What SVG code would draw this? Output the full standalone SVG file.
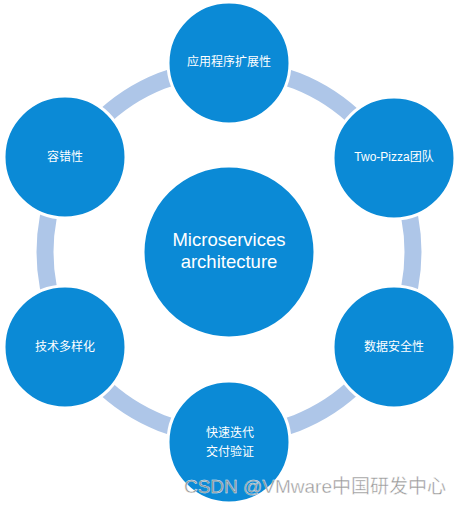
<svg xmlns="http://www.w3.org/2000/svg" width="462" height="506" viewBox="0 0 462 506">
<style>
.node{fill:#0b8ad6;stroke:#ffffff;stroke-width:3}
.cn{font-family:"Noto Sans CJK SC","Liberation Sans",sans-serif;font-size:12px;fill:#ffffff;text-anchor:middle}
.en{font-family:"Liberation Sans","Noto Sans CJK SC",sans-serif;fill:#ffffff;text-anchor:middle}
</style>
<rect width="462" height="506" fill="#ffffff"/>
<g id="connectors">
<circle cx="229" cy="252" r="184" fill="none" stroke="#aec6e8" stroke-width="17"/>
</g>
<g id="center">
<circle class="node" cx="229" cy="252" r="86"/>
<text class="en" x="229" y="246" font-size="18.5">Microservices</text>
<text class="en" x="229" y="268" font-size="18.5">architecture</text>
</g>
<g id="n-top">
<circle class="node" cx="229" cy="63" r="61"/>
<text class="cn" x="229" y="66">应用程序扩展性</text>
</g>
<g id="n-topright">
<circle class="node" cx="394" cy="158" r="61"/>
<text class="en" x="394" y="161" font-size="12">Two-Pizza团队</text>
</g>
<g id="n-bottomright">
<circle class="node" cx="394" cy="347" r="61"/>
<text class="cn" x="394" y="351">数据安全性</text>
</g>
<g id="n-bottom">
<circle class="node" cx="229" cy="442" r="61"/>
<text class="cn" x="230" y="437">快速迭代</text>
<text class="cn" x="230" y="456">交付验证</text>
</g>
<g id="n-bottomleft">
<circle class="node" cx="65" cy="347" r="61"/>
<text class="cn" x="65" y="351">技术多样化</text>
</g>
<g id="n-topleft">
<circle class="node" cx="65" cy="157" r="61"/>
<text class="cn" x="65" y="161">容错性</text>
</g>
<text x="446" y="493" text-anchor="end" font-family="Liberation Sans,Noto Sans CJK SC,sans-serif" font-size="19" fill="#8c8c8c" stroke="#ffffff" stroke-width="0.4" opacity="0.9">CSDN @VMware中国研发中心</text>
</svg>
